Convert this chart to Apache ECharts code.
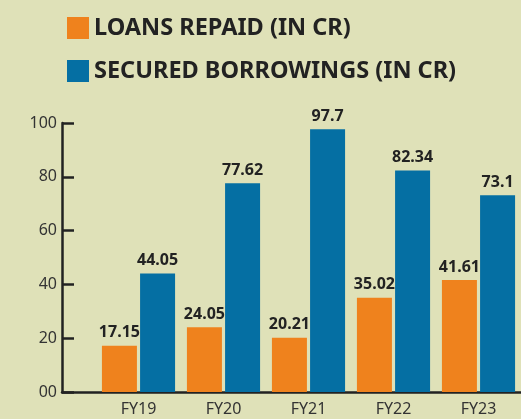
<!DOCTYPE html>
<html>
<head>
<meta charset="utf-8">
<script src="https://cdn.jsdelivr.net/npm/echarts@6/dist/echarts.min.js"></script>
<style>
  html, body { margin: 0; padding: 0; background: #dfe1b8; }
  #chart { width: 521px; height: 419px; }
</style>
</head>
<body>
<div id="chart"></div>
<script>
// data
const years = ['FY19', 'FY20', 'FY21', 'FY22', 'FY23']
const loansRepaid = [17.15, 24.05, 20.21, 35.02, 41.61]
const securedBorrowings = [44.05, 77.62, 97.7, 82.34, 73.1]
const yTicks = [0, 20, 40, 60, 80, 100]

const ink = '#222'
const font = 'Noto Sans'

let myChart = echarts.init(document.getElementById('chart'))

const barLabel = {
  show: true,
  position: 'top',
  distance: 5,
  color: ink,
  fontFamily: font,
  fontWeight: 'bold',
  fontSize: 16
}

let option = {
  backgroundColor: '#dfe1b8',
  animation: false,
  legend: {
    orient: 'vertical',
    left: 62,
    top: 11,
    itemWidth: 22,
    itemHeight: 22,
    itemGap: 19,
    icon: 'rect',
    textStyle: {
      color: ink,
      fontFamily: font,
      fontWeight: 'bold',
      fontSize: 23.5
    },
    data: ['LOANS REPAID (IN CR)', 'SECURED BORROWINGS (IN CR)']
  },
  grid: [
    // bars
    { left: 96, right: 0, top: 123, bottom: 27 },
    // axis lines and y labels
    { left: 62, right: 0, top: 123, bottom: 27 }
  ],
  xAxis: [
    {
      type: 'category',
      gridIndex: 0,
      data: years,
      axisLine: { show: false },
      axisTick: { show: false },
      axisLabel: { color: '#333', fontFamily: font, fontSize: 16, margin: 9 }
    },
    {
      type: 'category',
      gridIndex: 1,
      data: [''],
      axisLine: { show: true, lineStyle: { color: ink, width: 2.5 } },
      axisTick: { show: false },
      axisLabel: { show: false }
    }
  ],
  yAxis: [
    {
      type: 'value',
      gridIndex: 0,
      min: yTicks[0],
      max: yTicks[yTicks.length - 1],
      interval: 20,
      show: false
    },
    {
      type: 'value',
      gridIndex: 1,
      min: yTicks[0],
      max: yTicks[yTicks.length - 1],
      interval: 20,
      splitLine: { show: false },
      axisLine: { show: true, lineStyle: { color: ink, width: 2.5 } },
      axisTick: { show: true, inside: true, length: 12, lineStyle: { color: ink, width: 2.5 } },
      axisLabel: {
        color: '#333',
        fontFamily: font,
        fontSize: 16,
        margin: 5,
        formatter: function (v) {
          return v === 0 ? '00' : String(v)
        }
      }
    }
  ],
  series: [
    {
      name: 'LOANS REPAID (IN CR)',
      type: 'bar',
      xAxisIndex: 0,
      yAxisIndex: 0,
      barWidth: 35,
      barGap: '9%',
      itemStyle: { color: '#ef821d' },
      label: barLabel,
      data: loansRepaid
    },
    {
      name: 'SECURED BORROWINGS (IN CR)',
      type: 'bar',
      xAxisIndex: 0,
      yAxisIndex: 0,
      barWidth: 35,
      barGap: '9%',
      itemStyle: { color: '#056fa3' },
      label: barLabel,
      data: securedBorrowings
    }
  ]
}
myChart.setOption(option)
</script>
</body>
</html>
